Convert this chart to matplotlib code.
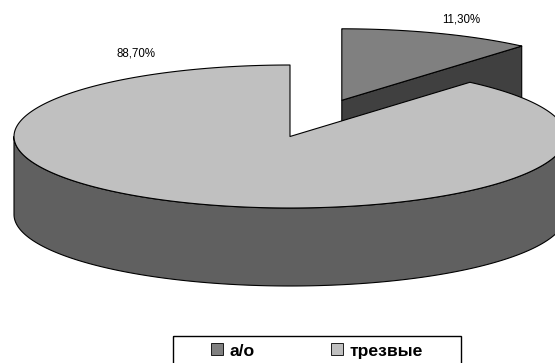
import numpy as np
import matplotlib
matplotlib.use("Agg")
import matplotlib.pyplot as plt
from matplotlib.patches import Polygon, Rectangle, Patch

# --- data ---
categories = ["а/о", "трезвые"]
shares = [11.3, 88.7]
explode = [0.54, 0.0]
top_colors = ["#808080", "#C0C0C0"]
side_colors = ["#404040", "#606060"]

# --- layout of the 3D pie (pixel units, y grows downward) ---
W, H = 555, 363
cx, cy = 290.0, 136.5
rx, ry = 276.0, 71.5
depth = 78.0
edge_kw = dict(edgecolor="black", linewidth=0.8, joinstyle="round")

fig = plt.figure(figsize=(W / 100, H / 100), dpi=100)
ax = fig.add_axes([0, 0, 1, 1])
ax.set_xlim(0, W)
ax.set_ylim(H, 0)
ax.axis("off")


def rim(theta_deg, ox, oy, dz=0.0):
    t = np.radians(theta_deg)
    return np.column_stack([cx + ox + rx * np.sin(t), cy + oy - ry * np.cos(t) + dz])


# slice angles (clockwise from 12 o'clock)
total = sum(shares)
bounds = np.concatenate([[0], np.cumsum(shares) / total * 360.0])
slices = []
for i, cat in enumerate(categories):
    a, b = bounds[i], bounds[i + 1]
    mid = np.radians((a + b) / 2)
    ox = explode[i] * rx * np.sin(mid)
    oy = -explode[i] * ry * np.cos(mid)
    slices.append((i, a, b, ox, oy))

# farther slices first
slices.sort(key=lambda s: s[4])

for i, a, b, ox, oy in slices:
    c_top = np.array([[cx + ox, cy + oy]])
    c_bot = c_top + [0, depth]
    # radial faces facing the viewer
    for th, is_start in ((a, True), (b, False)):
        s = np.sin(np.radians(th))
        visible = (s < -1e-9) if is_start else (s > 1e-9)
        if visible:
            p_top = rim([th], ox, oy)
            p_bot = rim([th], ox, oy, depth)
            ax.add_patch(Polygon(np.vstack([c_top, p_top, p_bot, c_bot]),
                                 closed=True, facecolor=side_colors[i], **edge_kw))
    # outer wall (front half only)
    lo, hi = max(a, 90.0), min(b, 270.0)
    if hi > lo:
        th = np.linspace(lo, hi, 200)
        wall = np.vstack([rim(th, ox, oy), rim(th[::-1], ox, oy, depth)])
        ax.add_patch(Polygon(wall, closed=True, facecolor=side_colors[i], **edge_kw))
    # top face
    th = np.linspace(a, b, 400)
    top = np.vstack([c_top, rim(th, ox, oy)])
    ax.add_patch(Polygon(top, closed=True, facecolor=top_colors[i], **edge_kw))

# percentage labels
label_pos = [(461, 19), (136, 54)]
for v, (lx, ly) in zip(shares, label_pos):
    ax.text(lx, ly, f"{v:.2f}%".replace(".", ","), ha="center", va="center",
            fontsize=8.3, family="Liberation Sans", color="black")

# legend
handles = [Patch(facecolor=top_colors[k], edgecolor="black", linewidth=0.6)
           for k in range(len(categories))]
ax.legend(handles, categories, loc="center left", bbox_to_anchor=(211, 351),
          bbox_transform=ax.transData, ncol=2, frameon=False,
          prop=dict(family="Liberation Sans", weight="bold", size=12.6),
          handlelength=0.66, handleheight=0.66, handletextpad=0.38,
          columnspacing=4.4, borderpad=0, borderaxespad=0)
ax.add_patch(Rectangle((173, 336), 288, 40, facecolor="none", edgecolor="black",
                       linewidth=1.0, clip_on=False))

fig.savefig("out.png", dpi=100)
